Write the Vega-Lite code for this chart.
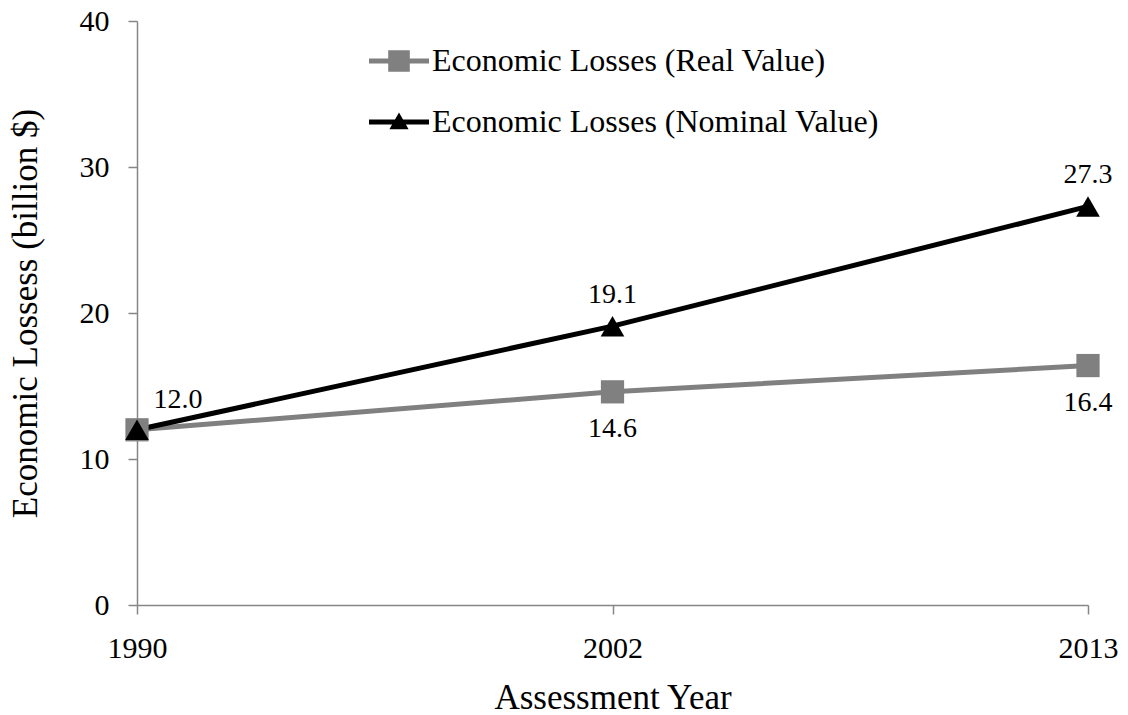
{
  "$schema": "https://vega.github.io/schema/vega-lite/v6.json",
  "width": 951,
  "height": 584,
  "autosize": {"type": "none"},
  "padding": {"left": 137, "top": 21, "right": 40, "bottom": 110},
  "background": "white",
  "config": {
    "view": {"stroke": null},
    "font": "Liberation Serif",
    "axis": {
      "domainColor": "#868686",
      "tickColor": "#868686",
      "domainWidth": 1.5,
      "tickWidth": 1.5,
      "labelColor": "black",
      "titleColor": "black",
      "labelFont": "Liberation Serif",
      "titleFont": "Liberation Serif",
      "labelFontSize": 30,
      "titleFontSize": 35,
      "titleFontWeight": "normal",
      "grid": false
    }
  },
  "data": {
    "values": [
      {"year": "1990", "series": "Economic Losses (Real Value)", "value": 12.0},
      {"year": "2002", "series": "Economic Losses (Real Value)", "value": 14.6},
      {"year": "2013", "series": "Economic Losses (Real Value)", "value": 16.4},
      {"year": "1990", "series": "Economic Losses (Nominal Value)", "value": 12.0},
      {"year": "2002", "series": "Economic Losses (Nominal Value)", "value": 19.1},
      {"year": "2013", "series": "Economic Losses (Nominal Value)", "value": 27.3}
    ]
  },
  "encoding": {
    "x": {
      "field": "year",
      "type": "ordinal",
      "scale": {"type": "point", "padding": 0},
      "axis": {"labelAngle": 0, "tickSize": 9, "labelPadding": 19, "title": "Assessment Year", "titlePadding": 17}
    },
    "y": {
      "field": "value",
      "type": "quantitative",
      "scale": {"domain": [0, 40], "nice": false},
      "axis": {"values": [0, 10, 20, 30, 40], "tickSize": 9, "labelPadding": 19, "title": "Economic Lossess (billion $)", "titlePadding": 36}
    }
  },
  "layer": [
    {
      "transform": [{"filter": "datum.series === 'Economic Losses (Real Value)'"}],
      "mark": {"type": "line", "strokeWidth": 5},
      "encoding": {
        "color": {
          "field": "series",
          "type": "nominal",
          "scale": {"domain": ["Economic Losses (Real Value)", "Economic Losses (Nominal Value)"], "range": ["#808080", "#000000"]},
          "legend": {
            "orient": "none",
            "legendX": 232,
            "legendY": 10,
            "title": null,
            "symbolSize": 3600,
            "symbolStrokeWidth": 0,
            "labelFont": "Liberation Serif",
            "labelFontSize": 32,
            "labelColor": "black",
            "labelOffset": 3,
            "labelLimit": 0,
            "rowPadding": 15,
            "padding": 0,
            "encode": {
              "symbols": {
                "update": {
                  "shape": {"signal": "datum.value === 'Economic Losses (Real Value)' ? 'M-1,-0.083H1V0.083H-1Z M-0.36,-0.36H0.36V0.36H-0.36Z' : 'M-1,-0.083H1V0.083H-1Z M0,-0.32L0.32,0.24H-0.32Z'"},
                  "fill": {"signal": "datum.value === 'Economic Losses (Real Value)' ? '#808080' : '#000000'"},
                  "opacity": {"value": 1},
                  "fillOpacity": {"value": 1},
                  "strokeWidth": {"value": 0}
                }
              }
            }
          }
        }
      }
    },
    {
      "transform": [{"filter": "datum.series === 'Economic Losses (Nominal Value)'"}],
      "mark": {"type": "line", "strokeWidth": 5},
      "encoding": {
        "color": {"field": "series", "type": "nominal"}
      }
    },
    {
      "transform": [{"filter": "datum.series === 'Economic Losses (Real Value)'"}],
      "mark": {"type": "point", "shape": "square", "filled": true, "opacity": 1, "size": 540},
      "encoding": {
        "color": {"field": "series", "type": "nominal"}
      }
    },
    {
      "transform": [{"filter": "datum.series === 'Economic Losses (Nominal Value)'"}],
      "mark": {"type": "point", "shape": "triangle-up", "filled": true, "opacity": 1, "size": 560},
      "encoding": {
        "color": {"field": "series", "type": "nominal"}
      }
    },
    {
      "transform": [{"filter": "datum.series === 'Economic Losses (Nominal Value)' && datum.year !== '1990'"}],
      "mark": {"type": "text", "fontSize": 28, "font": "Liberation Serif", "color": "black", "baseline": "middle", "dy": -31},
      "encoding": {"text": {"field": "value", "type": "quantitative", "format": ".1f"}}
    },
    {
      "transform": [{"filter": "datum.series === 'Economic Losses (Real Value)' && datum.year !== '1990'"}],
      "mark": {"type": "text", "fontSize": 28, "font": "Liberation Serif", "color": "black", "baseline": "middle", "dy": 37},
      "encoding": {"text": {"field": "value", "type": "quantitative", "format": ".1f"}}
    },
    {
      "transform": [{"filter": "datum.series === 'Economic Losses (Nominal Value)' && datum.year === '1990'"}],
      "mark": {"type": "text", "fontSize": 28, "font": "Liberation Serif", "color": "black", "baseline": "middle", "dx": 41, "dy": -30},
      "encoding": {"text": {"field": "value", "type": "quantitative", "format": ".1f"}}
    }
  ]
}
